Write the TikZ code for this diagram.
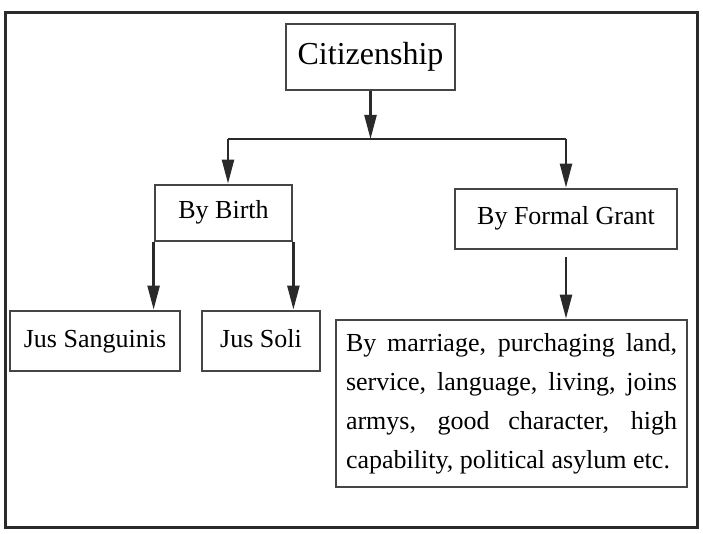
\documentclass[tikz,border=0pt]{standalone}
\usepackage{fontspec}
\setmainfont{Liberation Serif}
\usepackage{xcolor}
\usetikzlibrary{arrows.meta,positioning,calc}
\definecolor{ink}{HTML}{2A2A2A}
\definecolor{rim}{HTML}{454545}

\begin{document}
\begin{tikzpicture}[
  x=1pt, y=-1pt, >={Triangle[length=24pt,width=12pt]},
  lbl/.style={rectangle,draw=rim,line width=2.8pt,inner sep=0pt,fill=white,text height=18pt,text depth=6pt,font=\fontsize{26}{32}\selectfont},
  top/.style={lbl,text height=23pt,text depth=7pt,font=\fontsize{32}{38}\selectfont},
  txt/.style={lbl,text height=,text depth=,text width=331pt,align=justify,font=\fontsize{26}{39}\selectfont},
  link/.style={draw=ink,line width=2.4pt}
]
\useasboundingbox (0,0) rectangle (703,534);
\draw[ink,line width=3pt] (5,13) rectangle (697,527);
\node[top,minimum width=169pt,minimum height=66pt] (cit) at (370.5,57) {Citizenship};
\node[lbl,minimum width=137pt,minimum height=56pt] (birth) at (223.5,213) {By Birth};
\node[lbl,minimum width=222pt,minimum height=60pt] (grant) at (566,219) {By Formal Grant};
\node[lbl,minimum width=170pt,minimum height=60pt] (sang) at (95,341) {Jus Sanguinis};
\node[lbl,minimum width=118pt,minimum height=60pt] (soli) at (261,341) {Jus Soli};
\node[txt,minimum width=351pt,minimum height=167pt] (rest) at (511.5,403.5)
  {By marriage, purchaging land,\linebreak service, language, living, joins\linebreak armys, good character, high\linebreak capability, political asylum etc.};
% split line under the top box
\coordinate (jl) at (228,139); \coordinate (jr) at (566,139);
\draw[link,->] (cit.south) -- (cit.south |- jl);
\draw[link] (jl) -- (jr);
\draw[link,->] (jl) -- (jl |- birth.north);
\draw[link,->] (jr) -- (jr |- grant.north);
\draw[link,->] (birth.south west) -- (birth.south west |- sang.north);
\draw[link,->] (birth.south east) -- (birth.south east |- soli.north);
\draw[link,->] ([yshift=-7pt]grant.south) -- (grant.south |- rest.north);
\end{tikzpicture}
\end{document}
